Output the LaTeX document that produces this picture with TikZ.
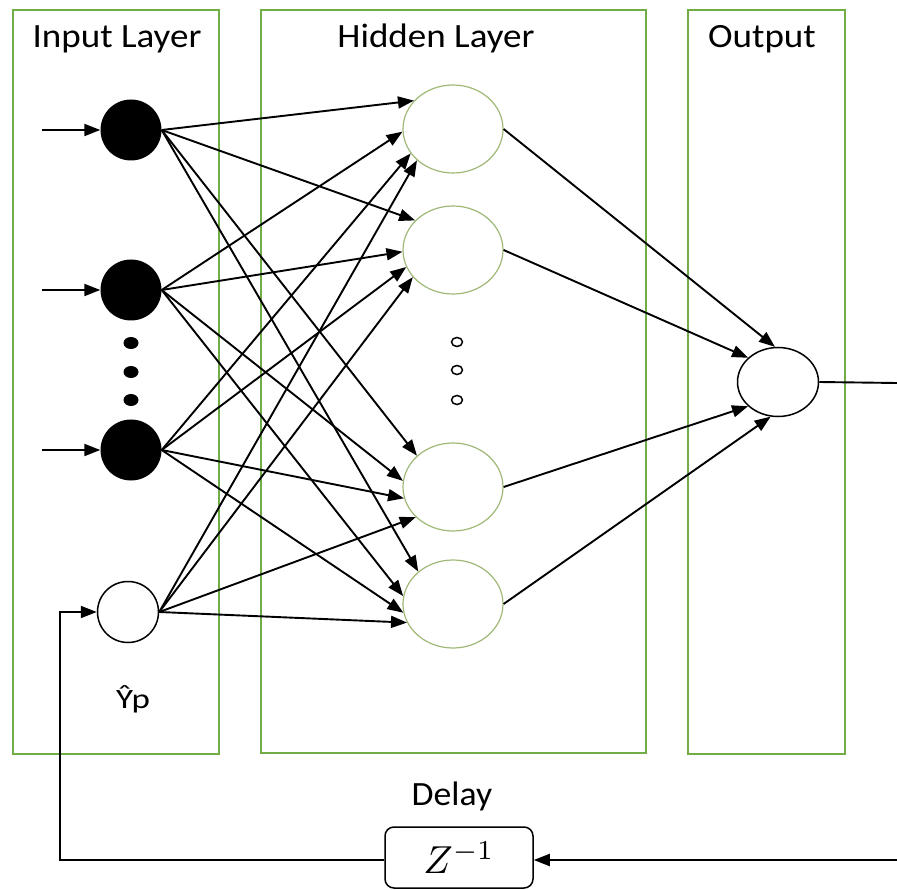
\documentclass[tikz,border=0pt]{standalone}
\usepackage{fontspec}
\setmainfont{Carlito}
\usetikzlibrary{arrows.meta,shapes.geometric}
\definecolor{layergreen}{RGB}{112,173,71}
\definecolor{hidgreen}{RGB}{160,185,120}
\tikzset{
  layerbox/.style={draw=layergreen,line width=1.5pt},
  innode/.style={circle,fill=black,minimum size=61pt,inner sep=0pt},
  fbnode/.style={circle,draw=black,line width=1.5pt,fill=white,minimum size=61pt,inner sep=0pt},
  hidnode/.style={ellipse,draw=hidgreen,line width=1.2pt,minimum width=100pt,minimum height=88pt,inner sep=0pt},
  outnode/.style={ellipse,draw=black,line width=1.5pt,minimum width=81pt,minimum height=69pt,inner sep=0pt},
  wire/.style={line width=1.9pt,-{Triangle[length=16pt,width=12pt]}},
  plainwire/.style={line width=1.9pt},
  heading/.style={font=\fontsize{34}{40}\selectfont,anchor=base,inner sep=0pt},
  delaybox/.style={draw=black,line width=1.5pt,rounded corners=9pt,minimum width=148pt,minimum height=61pt,inner sep=0pt}
}
\begin{document}
\begin{tikzpicture}[x=1pt,y=-1pt]
\useasboundingbox (0,0) rectangle (897,890);
\fill[white] (0,0) rectangle (897,890);

% layer frames
\draw[layerbox] (13,10) rectangle (219,754);
\draw[layerbox] (261,10) rectangle (646,753);
\draw[layerbox] (688,10) rectangle (845,754);

% layer titles
\node[heading] (tin) at (117,48) {\scalebox{1.09}[1]{Input Layer}};
\node[heading] (thid) at (436,48) {\scalebox{1.09}[1]{Hidden Layer}};
\node[heading] (tout) at (762,48) {\scalebox{1.09}[1]{Output}};

% input neurons
\node[innode] (in1) at (131,130) {};
\node[innode] (in2) at (131,290) {};
\node[innode] (in3) at (131,450) {};
\node[fbnode] (in4) at (128,612) {};
\foreach \y/\n in {343/d1,372/d2,400/d3}
  \node[ellipse,fill=black,minimum width=15pt,minimum height=12pt,inner sep=0pt] (\n) at (131,\y) {};

% external inputs
\coordinate (x1) at (42,130);
\coordinate (x2) at (42,290);
\coordinate (x3) at (42,450);
\draw[wire] (x1) -- (in1.west);
\draw[wire] (x2) -- (in2.west);
\draw[wire] (x3) -- (in3.west);

% hidden neurons
\node[hidnode] (h1) at (453,129) {};
\node[hidnode] (h2) at (453,250) {};
\node[hidnode] (h3) at (453,487) {};
\node[hidnode] (h4) at (453,604) {};
\foreach \y/\n in {342/e1,370/e2,400/e3}
  \node[ellipse,draw=black,line width=1.5pt,minimum width=11pt,minimum height=9pt,inner sep=0pt] (\n) at (457,\y) {};

% output neuron
\node[outnode] (out) at (778,382) {};

% input -> hidden weights
\draw[wire] (in1.east) -- (h1.144);
\draw[wire] (in1.east) -- (h2.142);
\draw[wire] (in1.east) -- (h3.139);
\draw[wire] (in1.east) -- (h4.137);
\draw[wire] (in2.east) -- (h1.183);
\draw[wire] (in2.east) -- (h2.182);
\draw[wire] (in2.east) -- (h3.173);
\draw[wire] (in2.east) -- (h4.171);
\draw[wire] (in3.east) -- (h1.210);
\draw[wire] (in3.east) -- (h2.200);
\draw[wire] (in3.east) -- (h3.193);
\draw[wire] (in3.east) -- (h4.190);
\draw[wire] (in4.east) -- (h1.221);
\draw[wire] (in4.east) -- (h2.214);
\draw[wire] (in4.east) -- (h3.219);
\draw[wire] (in4.east) -- (h4.202);

% hidden -> output weights
\draw[wire] (h1.east) -- (out.95);
\draw[wire] (h2.east) -- (out.141);
\draw[wire] (h3.east) -- (out.219);
\draw[wire] (h4.east) -- (out.258);

% output signal and delayed feedback
\coordinate (yout) at (897,383);
\draw[plainwire] (out.east) -- (yout);

\node[delaybox] (z) at (459,857.5) {\scalebox{3.9}{$Z^{-1}$}};
\node[heading] (delay) at (452,805) {\scalebox{1.05}[1]{Delay}};
\coordinate (fbin) at (897,860);
\coordinate (fbcorner) at (60,860);
\draw[wire] (fbin) -- (z.east |- fbin);
\draw[wire] (z.west |- fbcorner) -- (fbcorner) |- (in4.west);

\node[font=\fontsize{28}{32}\selectfont,anchor=base,inner sep=0pt] (yhat) at (133,708) {\scalebox{1.25}[1]{Ŷp}};
\end{tikzpicture}
\end{document}
